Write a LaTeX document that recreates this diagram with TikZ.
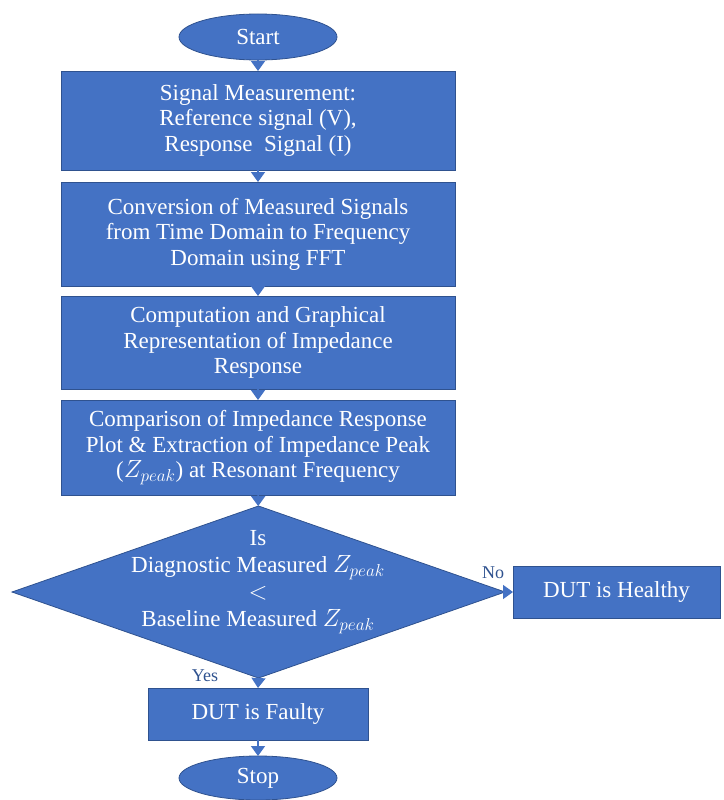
\documentclass[tikz,border=0pt]{standalone}
\usepackage{fontspec}
\setmainfont{Liberation Serif}
\usetikzlibrary{shapes.geometric,arrows.meta}
\definecolor{flowblue}{HTML}{4472C4}
\definecolor{flowedge}{HTML}{2F528F}
\begin{document}
\begin{tikzpicture}[x=1pt,y=-1pt,
  every node/.style={inner sep=0pt, outer sep=0pt},
  base/.style={fill=flowblue, draw=flowedge, line width=0.8pt, text=white,
    font=\fontsize{23}{25.5}\selectfont, align=center},
  procbox/.style={base, rectangle},
  term/.style={base, ellipse},
  decision/.style={base, diamond},
  link/.style={draw=flowblue, line width=1.6pt,
    -{Triangle[width=14pt,length=10pt]}},
  tag/.style={text=flowedge, font=\fontsize{18}{20}\selectfont}]
  \useasboundingbox (0,0) rectangle (723,800);

  \node[term, minimum width=158pt, minimum height=46pt] (start) at (258,37) {Start};
  \node[procbox, minimum width=394pt, minimum height=99pt] (meas) at (258,120.5)
    {Signal Measurement:\\Reference signal (V),\\Response\ \ Signal (I)};
  \node[procbox, minimum width=394pt, minimum height=104pt] (fft) at (258,234)
    {Conversion of Measured Signals\\from Time Domain to Frequency\\Domain using FFT};
  \node[procbox, minimum width=394pt, minimum height=93pt] (calc) at (258,342.5)
    {Computation and Graphical\\Representation of Impedance\\Response};
  \node[procbox, minimum width=394pt, minimum height=95pt] (comp) at (258,447.5)
    {Comparison of Impedance Response\\Plot \& Extraction of Impedance Peak\\($Z_{peak}$) at Resonant Frequency};
  \node[decision, minimum width=493pt, minimum height=172pt] (dec) at (258.5,592) {};
  \node[text=white, font=\fontsize{23}{27}\selectfont, align=center] (dectext) at (258,582)
    {Is\\Diagnostic Measured $Z_{peak}$\\$<$\\Baseline Measured $Z_{peak}$};
  \node[procbox, minimum width=207pt, minimum height=52pt] (healthy) at (616.5,592) {DUT is Healthy};
  \node[procbox, minimum width=220pt, minimum height=52pt] (faulty) at (258,714) {DUT is Faulty};
  \node[term, minimum width=158pt, minimum height=44pt] (stop) at (258,778) {Stop};

  \draw[link] (start) -- (meas);
  \draw[link] (meas) -- (fft);
  \draw[link] (fft) -- (calc);
  \draw[link] (calc) -- (comp);
  \draw[link] (comp) -- (dec);
  \draw[link] (dec.east) -- (healthy.west);
  \draw[link] (dec.south) -- (faulty.north);
  \draw[link] (faulty) -- (stop);

  \node[tag] (nolabel) at (493,573) {No};
  \node[tag] (yeslabel) at (205,676) {Yes};
\end{tikzpicture}
\end{document}
